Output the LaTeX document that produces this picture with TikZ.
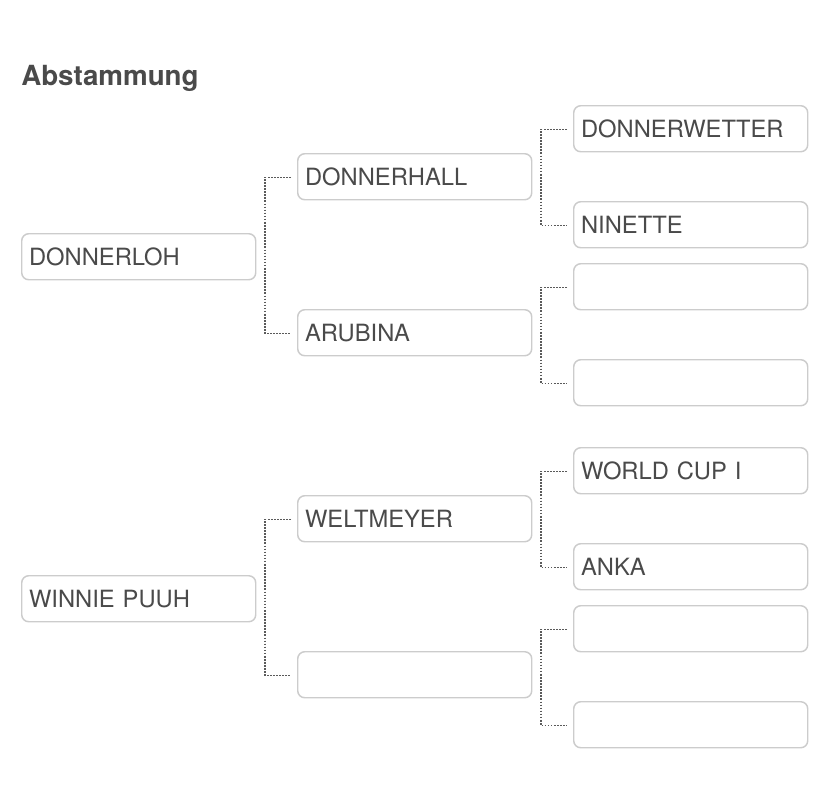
\documentclass[tikz,border=0pt]{standalone}
\usepackage{fontspec}
\setmainfont{TeX Gyre Heros}
\begin{document}
\begin{tikzpicture}[x=0.75pt,y=-0.75pt,
  horse/.style={draw=boxgray, line width=1.1pt, rounded corners=5.25pt, anchor=north west,
    minimum width=175.5pt, minimum height=34.5pt, text width=164.5pt, align=left,
    inner xsep=5.5pt, inner ysep=0pt, text=txtgray, font=\fontsize{17.8pt}{20pt}\selectfont},
  conn/.style={draw=lngray, line width=1.3pt, dash pattern=on 1.2pt off 1.1pt}]
\definecolor{boxgray}{HTML}{CCCCCC}
\definecolor{txtgray}{HTML}{4A4A4A}
\definecolor{lngray}{HTML}{5A5A5A}
\fill[white] (0,0) rectangle (828,786);
\useasboundingbox (0,0) rectangle (828,786);
\node[anchor=base west, inner sep=0pt, text=txtgray, font=\fontsize{20.8pt}{24pt}\selectfont\bfseries] (title) at (21,85) {Abstammung};
% column 1
\node[horse] (a1) at (21,233) {DONNERLOH};
\node[horse] (a2) at (21,575) {WINNIE PUUH};
% column 2
\node[horse] (b1) at (297,153) {DONNERHALL};
\node[horse] (b2) at (297,309) {ARUBINA};
\node[horse] (b3) at (297,495) {WELTMEYER};
\node[horse] (b4) at (297,651) {};
% column 3
\node[horse] (c1) at (573,105) {DONNERWETTER};
\node[horse] (c2) at (573,201) {NINETTE};
\node[horse] (c3) at (573,263) {};
\node[horse] (c4) at (573,359) {};
\node[horse] (c5) at (573,447) {WORLD CUP I};
\node[horse] (c6) at (573,543) {ANKA};
\node[horse] (c7) at (573,605) {};
\node[horse] (c8) at (573,701) {};
% connectors
\foreach \p/\q in {b1/b2, b3/b4, c1/c2, c3/c4, c5/c6, c7/c8}{
  \draw[conn] ([xshift=-4.5pt,yshift=-0.5pt]\p.west) -- ++(-19.5pt,0) |- ([xshift=-4.5pt,yshift=-0.5pt]\q.west);
}
\end{tikzpicture}
\end{document}
